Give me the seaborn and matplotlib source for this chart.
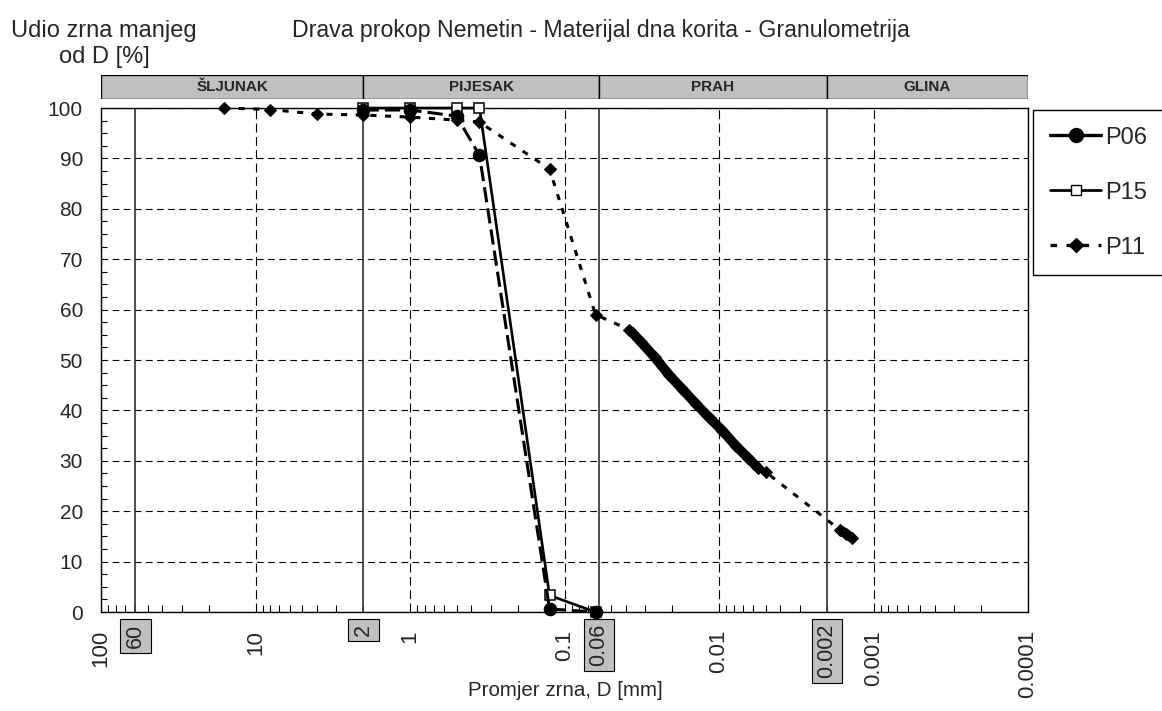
import numpy as np
import matplotlib
matplotlib.use("Agg")
import matplotlib.pyplot as plt
from matplotlib.lines import Line2D
from matplotlib.transforms import blended_transform_factory
import seaborn as sns

# ── data ─────────────────────────────────────────────────────────────────────
d06 = [2, 1, 0.5, 0.355, 0.125, 0.063]
p06 = [99.6, 99.6, 98.4, 90.6, 0.6, 0.0]

d15 = [2, 1, 0.5, 0.355, 0.125, 0.063]
p15 = [100.0, 100.0, 100.0, 100.0, 3.3, 0.0]

# P11: sieve part + hydrometer part
d11_sieve = [16, 8, 4, 2, 1, 0.5, 0.355, 0.125, 0.063]
p11_sieve = [100.0, 99.7, 98.8, 98.6, 98.2, 97.6, 97.2, 87.9, 59.0]
d11_hydro = [0.038, 0.032, 0.026, 0.021, 0.017, 0.014, 0.0115, 0.0095, 0.0078,
             0.0065, 0.0056, 0.005, 0.00165, 0.0015, 0.00138]
p11_hydro = [56.0, 53.6, 50.5, 47.0, 44.0, 41.2, 38.5, 36.0, 33.0,
             30.6, 28.6, 27.8, 16.3, 15.5, 14.7]

# soil classes (boundaries in mm) and axis labels
class_names = ["ŠLJUNAK", "PIJESAK", "PRAH", "GLINA"]
class_edges = [100, 2, 0.06, 0.002, 0.0001]
limit_marks = [60, 2, 0.06, 0.002]
limit_labels = ["60", "2", "0.06", "0.002"]
decades = [100, 10, 1, 0.1, 0.01, 0.001, 0.0001]
decade_labels = ["100", "10", "1", "0.1", "0.01", "0.001", "0.0001"]
y_ticks = list(range(0, 101, 10))

# ── style ────────────────────────────────────────────────────────────────────
sns.set_theme(style="white")
plt.rcParams["font.family"] = ["Liberation Sans", "DejaVu Sans"]

W, H = 1162, 711
fig = plt.figure(figsize=(W / 100, H / 100), dpi=100)
left, right, top, bottom = 101, 1028, 108, 612
ax = fig.add_axes([left / W, 1 - bottom / H, (right - left) / W, (bottom - top) / H])

ax.set_xscale("log")
ax.set_xlim(100, 0.0001)
ax.set_ylim(0, 100)

# grid
ax.yaxis.grid(True, linestyle=(0, (6, 4)), color="black", lw=0.8)
ax.xaxis.grid(True, which="major", linestyle=(0, (8, 4)), color="black", lw=0.8)
for xm in limit_marks:
    ax.axvline(xm, color="#404040", lw=1.3, zorder=1)

# series
dash06 = (0, (5, 2))
sns.lineplot(x=d06, y=p06, ax=ax, color="black", lw=2.2, linestyle=dash06,
             marker="o", markersize=9, markeredgecolor="black",
             sort=False, estimator=None, zorder=4, clip_on=False)
sns.lineplot(x=d15, y=p15, ax=ax, color="black", lw=1.9, linestyle="-",
             marker="s", markersize=7, markerfacecolor="white",
             markeredgecolor="black", markeredgewidth=1.1,
             sort=False, estimator=None, zorder=3, clip_on=False)
d11 = d11_sieve + d11_hydro
p11 = p11_sieve + p11_hydro
sns.lineplot(x=d11, y=p11, ax=ax, color="black", lw=2.2, linestyle=(0, (2, 2.8)),
             marker="D", markersize=6.5, markeredgecolor="black",
             sort=False, estimator=None, zorder=3, clip_on=False)
# dense hydrometer readings appear as a thick band
n_band = 11
sns.lineplot(x=d11_hydro[:n_band], y=p11_hydro[:n_band], ax=ax, color="black",
             lw=7, solid_capstyle="butt", sort=False, estimator=None, zorder=3)
sns.lineplot(x=d11_hydro[-3:], y=p11_hydro[-3:], ax=ax, color="black",
             lw=7, solid_capstyle="butt", sort=False, estimator=None, zorder=3)

# axes ticks
ax.set_yticks(y_ticks)
ax.set_yticklabels([str(v) for v in y_ticks], fontsize=15)
ax.set_yticks(np.arange(0, 100, 2.5), minor=True)
ax.tick_params(axis="y", which="major", length=0, pad=13)
ax.tick_params(axis="y", which="minor", direction="in", length=4, width=0.8,
               left=True, color="black")
ax.set_xticks(decades)
ax.set_xticklabels(decade_labels, rotation=90, fontsize=16)
ax.tick_params(axis="x", which="major", length=0, pad=13)
ax.tick_params(axis="x", which="minor", direction="in", length=5, width=0.8,
               bottom=True, color="black", labelbottom=False)
ax.xaxis.set_minor_formatter(plt.NullFormatter())
for s in ax.spines.values():
    s.set_color("black")
    s.set_linewidth(1.0)

tr = blended_transform_factory(ax.transData, ax.transAxes)
for xm, lab in zip(limit_marks, limit_labels):
    ax.text(xm, -0.024, lab, transform=tr, rotation=90, ha="center", va="top",
            fontsize=15.5, bbox=dict(boxstyle="square,pad=0.22", fc="#c0c0c0",
                                     ec="black", lw=0.8))

ax.set_xlabel("")
ax.set_ylabel("")
fig.text(565 / W, 1 - 690 / H, "Promjer zrna, D [mm]", ha="center", va="center",
         fontsize=14.8)
fig.text(104 / W, 1 - 44 / H, "Udio zrna manjeg\nod D [%]", ha="center",
         va="center", multialignment="center", fontsize=17, linespacing=1.22)
fig.text(601 / W, 1 - 31 / H,
         "Drava prokop Nemetin - Materijal dna korita - Granulometrija",
         ha="center", va="center", fontsize=16.7)

# header band with soil classes
hax = fig.add_axes([left / W, 1 - 99 / H, (right - left) / W, 24 / H])
hax.set_xscale("log")
hax.set_xlim(100, 0.0001)
hax.set_ylim(0, 1)
hax.axis("off")
for name, a, b in zip(class_names, class_edges[:-1], class_edges[1:]):
    hax.axvspan(a, b, 0, 1, facecolor="#c0c0c0", edgecolor="black", lw=1.0)
    hax.text(np.sqrt(a * b), 0.5, name, ha="center", va="center",
             fontsize=11, fontweight="bold")

# legend
handles = [
    Line2D([], [], color="black", lw=2.4, marker="o", markersize=10),
    Line2D([], [], color="black", lw=2.0, marker="s", markersize=6.5,
           markerfacecolor="white", markeredgewidth=1.0),
    Line2D([], [], color="black", lw=2.4, linestyle=(0, (2, 2.8)), marker="D",
           markersize=7),
]
fig.legend(handles, ["P06", "P15", "P11"], loc="upper left",
           bbox_to_anchor=(1033 / W, 1 - 110 / H), frameon=True, fancybox=False,
           edgecolor="black", borderaxespad=0, handlelength=2.2,
           handletextpad=0.15, labelspacing=1.4, borderpad=0.7, fontsize=17,
           framealpha=1)

fig.savefig("out.png", dpi=100)
